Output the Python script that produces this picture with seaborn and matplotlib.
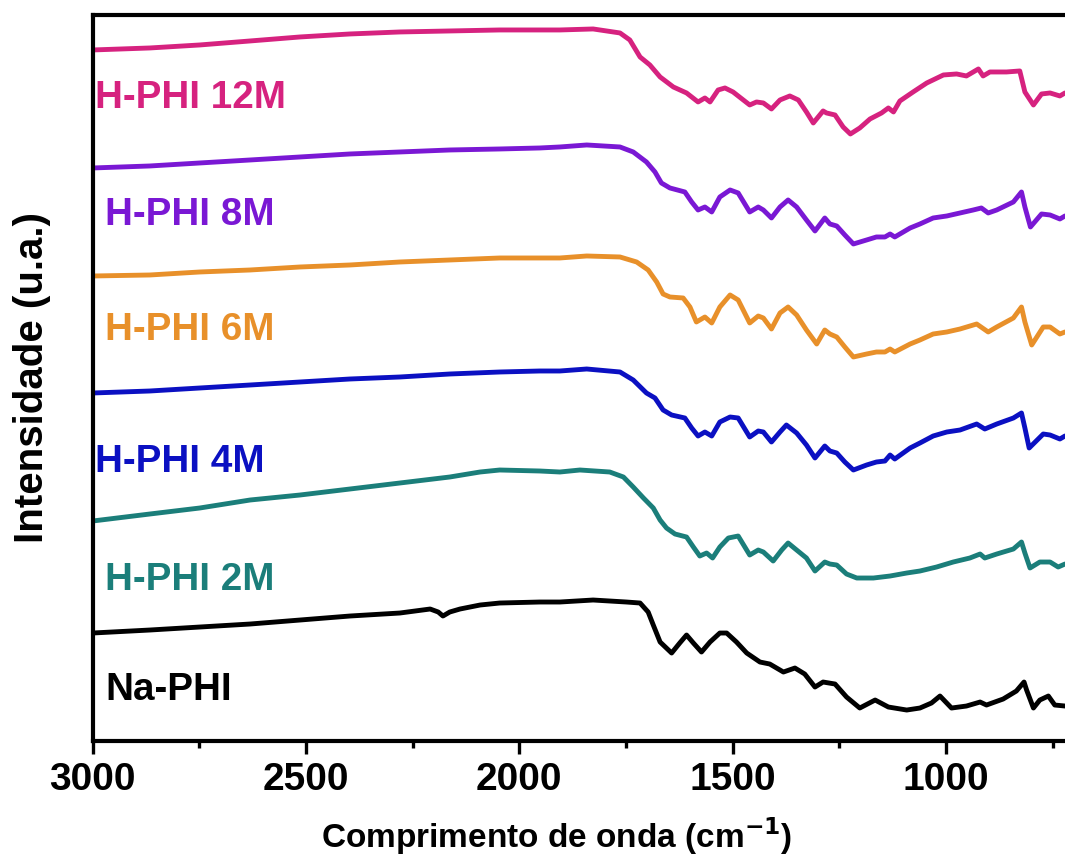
import numpy as np
import pandas as pd
import matplotlib
matplotlib.use("Agg")
import matplotlib.pyplot as plt
import seaborn as sns
from matplotlib.ticker import MultipleLocator

# ---------------- data (wavenumber in cm^-1, intensity in arbitrary units) -------------
samples = ["H-PHI 12M", "H-PHI 8M", "H-PHI 6M", "H-PHI 4M", "H-PHI 2M", "Na-PHI"]
colors = ["#D6227F", "#7A18D4", "#E8902A", "#0B10C2", "#1B7E7A", "#000000"]

wn_12M = [3000, 2866, 2749, 2631, 2514, 2397, 2280, 2163, 2046, 1952, 1905, 1827, 1764, 1741, 1717,
          1694, 1670, 1639, 1608, 1581, 1565, 1553, 1534, 1518, 1499, 1475, 1460, 1444, 1428, 1409,
          1389, 1366, 1346, 1327, 1311, 1288, 1280, 1260, 1241, 1224, 1202, 1178, 1151, 1135, 1123,
          1108, 1077, 1045, 1006, 975, 952, 924, 913, 897, 858, 827, 815, 795, 776, 756, 733, 721]
int_12M = [691, 693, 696, 700, 704, 707, 709, 710, 711, 711, 711, 712, 708, 701, 684,
           676, 664, 654, 648, 639, 643, 639, 651, 653, 649, 641, 636, 639, 638, 632,
           641, 645, 641, 629, 618, 630, 628, 626, 614, 607, 613, 622, 628, 633, 629,
           640, 649, 658, 666, 667, 665, 672, 665, 669, 669, 670, 649, 636, 647, 648, 645, 648]

wn_8M = [3000, 2866, 2749, 2631, 2514, 2397, 2280, 2163, 2046, 1952, 1905, 1842, 1764, 1733, 1702,
         1682, 1667, 1647, 1612, 1596, 1581, 1565, 1549, 1530, 1506, 1487, 1460, 1440, 1428, 1409,
         1389, 1370, 1350, 1327, 1307, 1284, 1272, 1256, 1237, 1217, 1186, 1163, 1143, 1131, 1120,
         1084, 1061, 1030, 998, 967, 936, 917, 901, 881, 842, 823, 815, 802, 776, 756, 733, 721]
int_8M = [573, 575, 578, 581, 584, 587, 589, 591, 592, 593, 594, 596, 594, 589, 579,
          569, 558, 553, 549, 539, 531, 534, 529, 544, 551, 548, 529, 534, 531, 523,
          534, 541, 534, 521, 510, 523, 517, 515, 506, 497, 501, 504, 504, 507, 504,
          513, 517, 523, 525, 528, 531, 533, 528, 531, 539, 549, 534, 514, 527, 526, 522, 525]

wn_6M = [3000, 2866, 2749, 2631, 2514, 2397, 2280, 2163, 2046, 1952, 1905, 1842, 1764, 1725, 1698,
         1678, 1663, 1647, 1616, 1600, 1585, 1565, 1549, 1530, 1506, 1487, 1460, 1440, 1428, 1409,
         1389, 1370, 1350, 1327, 1303, 1284, 1272, 1256, 1237, 1217, 1186, 1163, 1143, 1131, 1120,
         1084, 1061, 1030, 998, 967, 928, 901, 881, 842, 823, 815, 799, 772, 756, 733, 721]
int_6M = [465, 466, 469, 471, 474, 476, 479, 481, 483, 483, 483, 485, 484, 479, 471,
          459, 447, 444, 443, 434, 419, 424, 418, 434, 446, 441, 418, 425, 423, 412,
          428, 434, 426, 411, 397, 411, 407, 404, 394, 384, 387, 389, 389, 392, 389,
          397, 401, 407, 409, 412, 417, 409, 414, 423, 434, 419, 396, 414, 414, 407, 409]

wn_4M = [3000, 2866, 2749, 2631, 2514, 2397, 2280, 2163, 2046, 1952, 1905, 1842, 1764, 1733, 1702,
         1682, 1663, 1643, 1612, 1596, 1581, 1565, 1549, 1530, 1506, 1487, 1460, 1440, 1428, 1409,
         1389, 1374, 1350, 1327, 1307, 1284, 1272, 1256, 1237, 1217, 1186, 1163, 1143, 1131, 1120,
         1084, 1061, 1030, 998, 967, 928, 909, 881, 842, 823, 815, 805, 772, 756, 733, 721]
int_4M = [348, 350, 353, 356, 359, 362, 364, 367, 369, 370, 370, 372, 369, 361, 348,
          343, 331, 326, 323, 313, 305, 309, 305, 319, 324, 323, 304, 310, 309, 299,
          309, 316, 308, 296, 283, 295, 290, 288, 279, 271, 276, 279, 280, 286, 282,
          293, 298, 305, 309, 311, 317, 312, 317, 323, 328, 313, 293, 307, 306, 302, 305]

wn_2M = [3000, 2866, 2749, 2631, 2514, 2397, 2280, 2163, 2092, 2046, 1952, 1905, 1858, 1788, 1756,
         1733, 1709, 1686, 1670, 1655, 1635, 1608, 1592, 1577, 1561, 1547, 1530, 1510, 1487, 1460,
         1440, 1428, 1405, 1385, 1370, 1350, 1327, 1307, 1284, 1272, 1256, 1233, 1209, 1170, 1131,
         1092, 1061, 1022, 983, 944, 920, 909, 881, 842, 823, 815, 803, 780, 756, 737, 721]
int_2M = [220, 227, 233, 241, 246, 252, 258, 264, 269, 271, 270, 269, 271, 269, 264,
          254, 243, 233, 221, 213, 207, 204, 194, 185, 188, 183, 194, 203, 205, 186,
          191, 189, 180, 191, 198, 191, 183, 170, 179, 177, 176, 167, 163, 163, 165,
          168, 170, 174, 179, 183, 187, 183, 187, 192, 199, 188, 173, 179, 179, 174, 177]

wn_Na = [3000, 2866, 2749, 2631, 2514, 2397, 2280, 2209, 2190, 2179, 2163, 2139, 2092, 2046, 1952,
         1905, 1827, 1749, 1717, 1698, 1686, 1670, 1643, 1624, 1608, 1592, 1573, 1553, 1530, 1514,
         1491, 1467, 1436, 1413, 1381, 1354, 1331, 1307, 1288, 1260, 1233, 1202, 1166, 1135, 1092,
         1061, 1034, 1014, 987, 952, 920, 905, 866, 835, 817, 811, 795, 780, 760, 745, 721]
int_Na = [108, 111, 114, 117, 121, 125, 128, 132, 129, 125, 129, 132, 136, 138, 139,
          139, 141, 139, 138, 129, 116, 99, 88, 98, 106, 98, 89, 99, 108, 108,
          99, 88, 79, 77, 69, 73, 67, 54, 59, 57, 44, 33, 41, 34, 31,
          33, 38, 45, 33, 35, 39, 36, 42, 50, 59, 51, 33, 41, 45, 36, 35]

tick_values = [3000, 2500, 2000, 1500, 1000]

series_wn = [wn_12M, wn_8M, wn_6M, wn_4M, wn_2M, wn_Na]
series_int = [int_12M, int_8M, int_6M, int_4M, int_2M, int_Na]

frames = []
for name, w, v in zip(samples, series_wn, series_int):
    frames.append(pd.DataFrame({"wn": w, "I": v, "sample": name}))
df = pd.concat(frames, ignore_index=True)

# ---------------- plot -------------
sns.set_theme(style="ticks")
plt.rcParams["font.family"] = ["Liberation Sans", "DejaVu Sans"]
plt.rcParams["font.weight"] = "bold"
plt.rcParams["text.color"] = "black"
plt.rcParams["axes.labelcolor"] = "black"
plt.rcParams["xtick.color"] = "black"
plt.rcParams["mathtext.default"] = "bf"

fig = plt.figure(figsize=(10.65, 8.55), dpi=100)
ax = fig.add_axes([0.087, 0.1333, 0.913, 0.8492])

sns.lineplot(data=df, x="wn", y="I", hue="sample", hue_order=samples,
             palette=dict(zip(samples, colors)), sort=False, estimator=None,
             linewidth=3.5, legend=False, ax=ax)

ax.set_xlim(3000, 721)
ax.set_ylim(0, 726)
ax.set_yticks([])
ax.set_xticks(tick_values)
ax.set_xticklabels([str(t) for t in tick_values])
ax.xaxis.set_minor_locator(MultipleLocator(250))

label_pos = [(2995, 643), (2971, 526), (2971, 411), (2995, 279), (2971, 161), (2971, 51)]
for name, c, (px, py) in zip(samples, colors, label_pos):
    ax.text(px, py, name, color=c, fontsize=27.8, fontweight="bold", ha="left", va="center")

for s in ["left", "bottom", "top"]:
    ax.spines[s].set_linewidth(3.0)
    ax.spines[s].set_color("black")
ax.spines["right"].set_visible(False)

ax.tick_params(axis="x", which="major", direction="out", length=9, width=2.4,
               labelsize=28, pad=6, colors="black")
ax.tick_params(axis="x", which="minor", direction="out", length=5, width=2.4, colors="black")
for lab in ax.get_xticklabels():
    lab.set_fontweight("bold")

ax.set_xlabel("Comprimento de onda (cm$^{-1}$)", fontsize=24, fontweight="bold", color="black")
ax.set_ylabel("Intensidade (u.a.)", fontsize=29, fontweight="bold", color="black")
ax.xaxis.set_label_coords(0.4775, -0.102)
ax.yaxis.set_label_coords(-0.043, 0.5)

fig.savefig("out.png", dpi=100, facecolor="white")
